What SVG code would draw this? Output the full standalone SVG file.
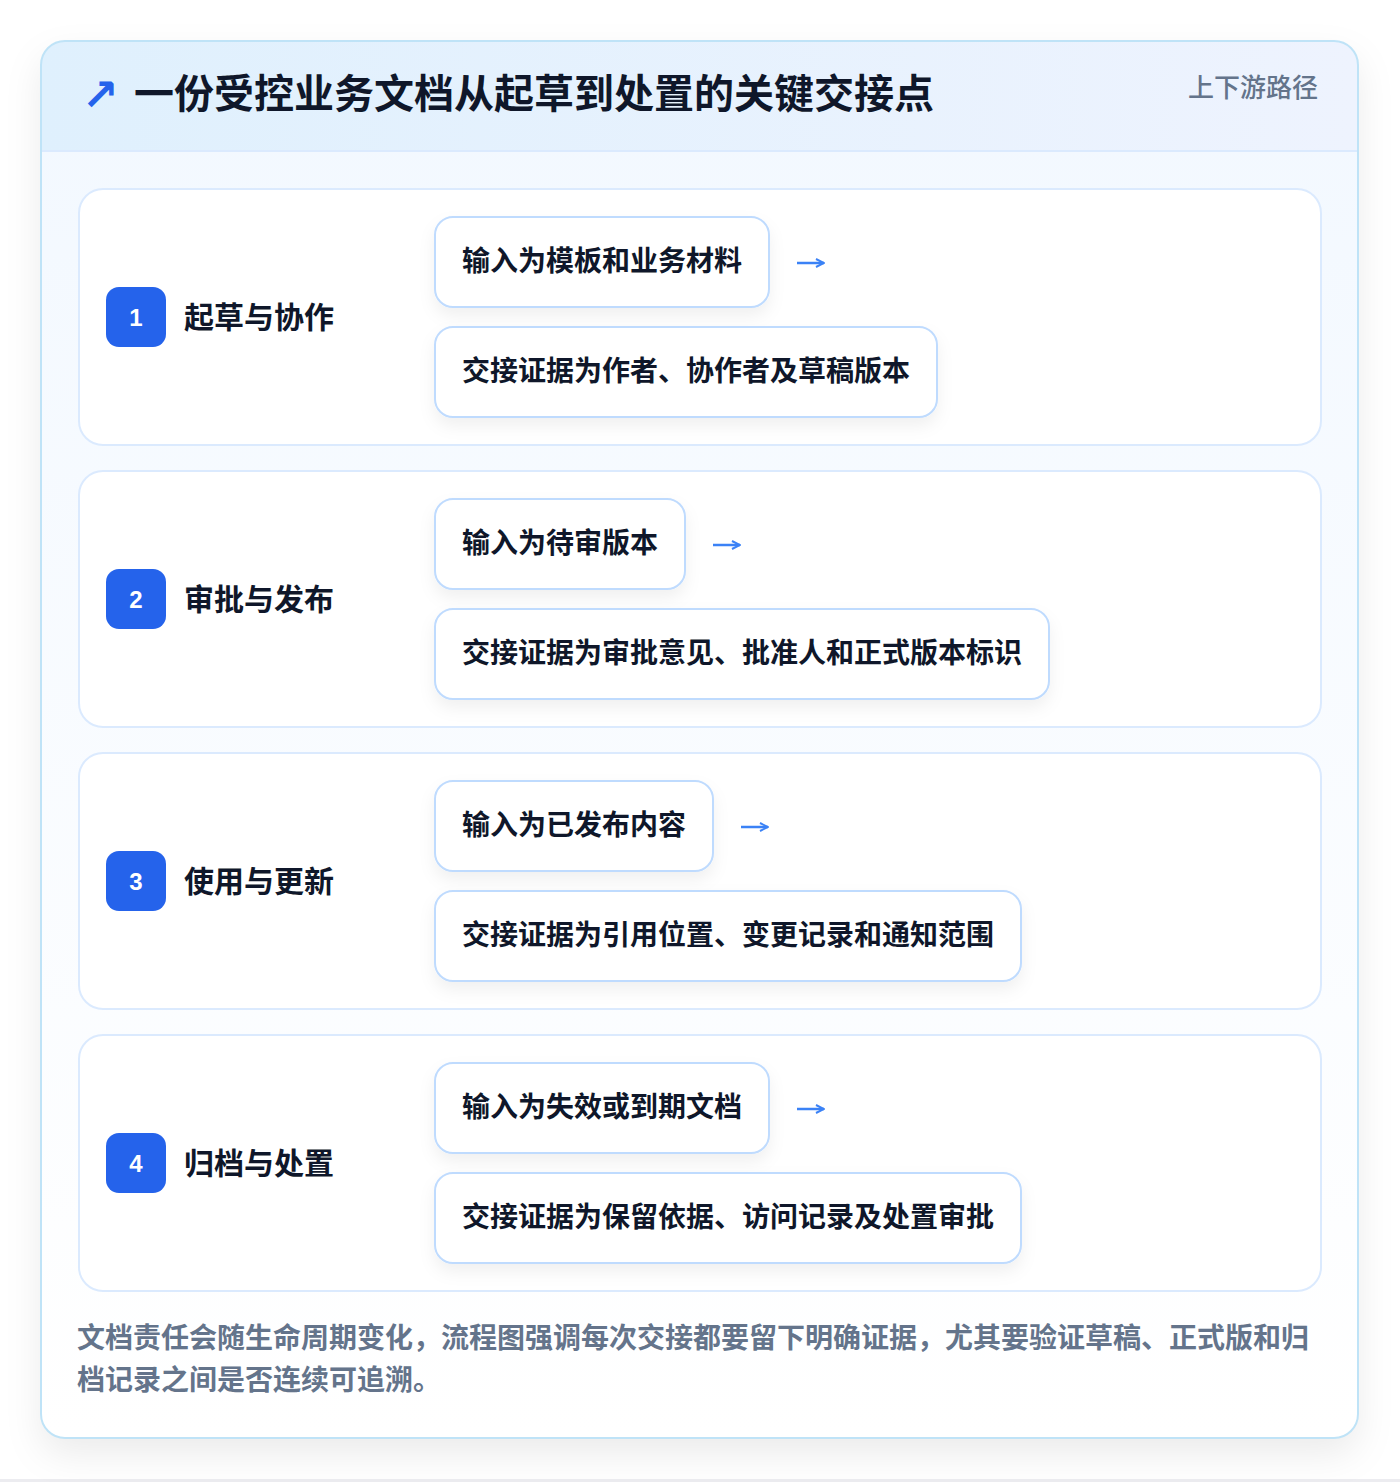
<svg xmlns="http://www.w3.org/2000/svg" width="1400" height="1482" viewBox="0 0 1400 1482">
<defs>
<style>
.cjk{font-family:"Noto Sans CJK SC","Noto Sans",sans-serif;}
.title{font-size:40px;font-weight:700;fill:#0f172a;}
.tag{font-size:26px;font-weight:500;fill:#64748b;}
.stage{fill:#ffffff;stroke:#dbeafe;stroke-width:2;}
.badge{fill:#2563eb;}
.num{font-family:"Liberation Sans",Arial,sans-serif;font-size:24px;font-weight:700;fill:#ffffff;}
.label{font-size:30px;font-weight:700;fill:#0f172a;}
.box{fill:#ffffff;stroke:#bfdbfe;stroke-width:2;}
.btxt{font-size:28px;font-weight:700;fill:#0f172a;}
.conn{stroke:#3b82f6;stroke-width:2.5;fill:none;marker-end:url(#ah);}
.foot{font-size:28px;font-weight:700;fill:#64748b;}
</style>
<marker id="ah" viewBox="0 0 10 10" refX="9" refY="5" markerWidth="4" markerHeight="4" orient="auto" markerUnits="strokeWidth">
<path d="M1,1 L9,5 L1,9" fill="none" stroke="#3b82f6" stroke-width="2"/>
</marker>
<linearGradient id="hdr" x1="0" y1="0" x2="1" y2="0">
<stop offset="0" stop-color="#dff0fd"/>
<stop offset="1" stop-color="#eef3fe"/>
</linearGradient>
<linearGradient id="body" x1="0" y1="0" x2="0" y2="1">
<stop offset="0" stop-color="#f2f8ff"/>
<stop offset="1" stop-color="#ffffff"/>
</linearGradient>
<filter id="sh" x="-10%" y="-10%" width="120%" height="120%">
<feDropShadow dx="0" dy="16" stdDeviation="18" flood-color="#0f172a" flood-opacity="0.08"/>
</filter>
<filter id="bsh" x="-10%" y="-30%" width="120%" height="160%">
<feDropShadow dx="0" dy="8" stdDeviation="8" flood-color="#0f172a" flood-opacity="0.06"/>
</filter>
<clipPath id="card"><rect x="41" y="41" width="1317" height="1397" rx="24"/></clipPath>
</defs>
<rect x="0" y="0" width="1400" height="1482" fill="#ffffff"/>
<rect x="0" y="1479" width="1400" height="3" fill="#ececf0"/>
<g id="frame">
<rect x="41" y="41" width="1317" height="1397" rx="24" fill="url(#body)" filter="url(#sh)"/>
<g clip-path="url(#card)">
<rect x="41" y="41" width="1317" height="110" fill="url(#hdr)"/>
<line x1="41" y1="151" x2="1358" y2="151" stroke="#dbeafe" stroke-width="2"/>
</g>
<rect x="41" y="41" width="1317" height="1397" rx="24" fill="none" stroke="#bfe3f7" stroke-width="2"/>
</g>
<g id="header">
<text x="82" y="110" style="font-family:'DejaVu Sans',sans-serif;font-size:44px;font-weight:700;fill:#2563eb">↗</text>
<text x="134" y="108" class="cjk title">一份受控业务文档从起草到处置的关键交接点</text>
<text x="1318" y="97" class="cjk tag" text-anchor="end">上下游路径</text>
</g>
<g id="stage1">
<rect x="79" y="189" width="1242" height="256" rx="24" class="stage"/>
<rect x="106" y="287" width="60" height="60" rx="13" class="badge"/>
<text x="136" y="326" class="num" text-anchor="middle">1</text>
<text x="184" y="328" class="cjk label">起草与协作</text>
<g id="s1-input"><rect x="435" y="217" width="334" height="90" rx="18" class="box" filter="url(#bsh)"/>
<text x="462" y="271" class="cjk btxt">输入为模板和业务材料</text></g>
<g id="s1-evidence"><rect x="435" y="327" width="502" height="90" rx="18" class="box" filter="url(#bsh)"/>
<text x="462" y="381" class="cjk btxt">交接证据为作者、协作者及草稿版本</text></g>
</g>
<g id="stage2">
<rect x="79" y="471" width="1242" height="256" rx="24" class="stage"/>
<rect x="106" y="569" width="60" height="60" rx="13" class="badge"/>
<text x="136" y="608" class="num" text-anchor="middle">2</text>
<text x="184" y="610" class="cjk label">审批与发布</text>
<g id="s2-input"><rect x="435" y="499" width="250" height="90" rx="18" class="box" filter="url(#bsh)"/>
<text x="462" y="553" class="cjk btxt">输入为待审版本</text></g>
<g id="s2-evidence"><rect x="435" y="609" width="614" height="90" rx="18" class="box" filter="url(#bsh)"/>
<text x="462" y="663" class="cjk btxt">交接证据为审批意见、批准人和正式版本标识</text></g>
</g>
<g id="stage3">
<rect x="79" y="753" width="1242" height="256" rx="24" class="stage"/>
<rect x="106" y="851" width="60" height="60" rx="13" class="badge"/>
<text x="136" y="890" class="num" text-anchor="middle">3</text>
<text x="184" y="892" class="cjk label">使用与更新</text>
<g id="s3-input"><rect x="435" y="781" width="278" height="90" rx="18" class="box" filter="url(#bsh)"/>
<text x="462" y="835" class="cjk btxt">输入为已发布内容</text></g>
<g id="s3-evidence"><rect x="435" y="891" width="586" height="90" rx="18" class="box" filter="url(#bsh)"/>
<text x="462" y="945" class="cjk btxt">交接证据为引用位置、变更记录和通知范围</text></g>
</g>
<g id="stage4">
<rect x="79" y="1035" width="1242" height="256" rx="24" class="stage"/>
<rect x="106" y="1133" width="60" height="60" rx="13" class="badge"/>
<text x="136" y="1172" class="num" text-anchor="middle">4</text>
<text x="184" y="1174" class="cjk label">归档与处置</text>
<g id="s4-input"><rect x="435" y="1063" width="334" height="90" rx="18" class="box" filter="url(#bsh)"/>
<text x="462" y="1117" class="cjk btxt">输入为失效或到期文档</text></g>
<g id="s4-evidence"><rect x="435" y="1173" width="586" height="90" rx="18" class="box" filter="url(#bsh)"/>
<text x="462" y="1227" class="cjk btxt">交接证据为保留依据、访问记录及处置审批</text></g>
</g>
<g id="connectors">
<line x1="797" y1="263" x2="824" y2="263" class="conn"/>
<line x1="713" y1="545" x2="740" y2="545" class="conn"/>
<line x1="741" y1="827" x2="768" y2="827" class="conn"/>
<line x1="797" y1="1109" x2="824" y2="1109" class="conn"/>
</g>
<g id="footer">
<text x="77" y="1348" class="cjk foot">文档责任会随生命周期变化，流程图强调每次交接都要留下明确证据，尤其要验证草稿、正式版和归</text>
<text x="77" y="1390" class="cjk foot">档记录之间是否连续可追溯。</text>
</g>
</svg>
